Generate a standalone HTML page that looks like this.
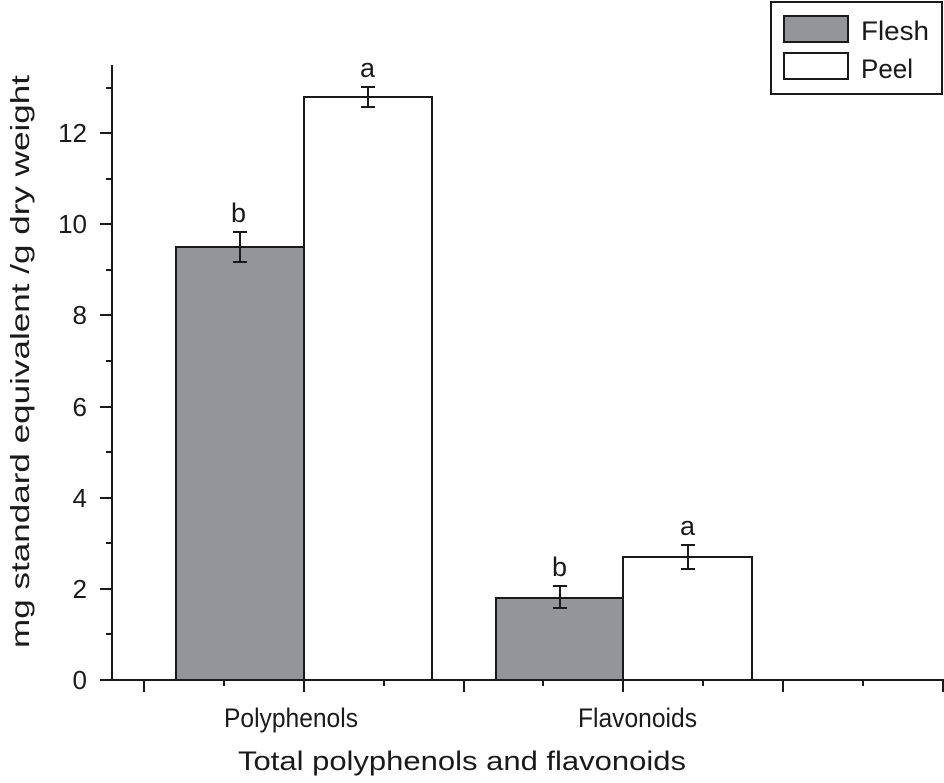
<!DOCTYPE html>
<html><head><style>body{margin:0;background:#fff}</style></head><body>
<svg width="944" height="778" xmlns="http://www.w3.org/2000/svg" font-family="'Liberation Sans',sans-serif">
<rect width="944" height="778" fill="#fff"/>
<g stroke="#1a1a1a" stroke-width="2">
<rect x="176" y="247" width="128" height="433" fill="#939598"/>
<rect x="304" y="97" width="128" height="583" fill="#fff"/>
<rect x="496" y="598" width="127" height="82" fill="#939598"/>
<rect x="623" y="557" width="129" height="123" fill="#fff"/>
<line x1="112" y1="65" x2="112" y2="680"/>
<line x1="100" y1="680" x2="944" y2="680"/>
</g>
<g stroke="#1a1a1a" stroke-width="2">
<path d="M100 680H112M100 589H112M100 498H112M100 407H112M100 315H112M100 224H112M100 133H112"/>
<path d="M106 634H112M106 543H112M106 452H112M106 361H112M106 270H112M106 179H112M106 88H112"/>
<path d="M144 680V692M304 680V692M464 680V692M623 680V692M783 680V692M943 680V692"/>
<path d="M224 680V686M384 680V686M543 680V686M703 680V686M863 680V686"/>
<path d="M240 232V262M233 232H247M233 262H247"/>
<path d="M368 87V107M361 87H375M361 107H375"/>
<path d="M560 586V608M553 586H567M553 608H567"/>
<path d="M688 545V569M681 545H695M681 569H695"/>
</g>
<g font-size="26" fill="#1a1a1a" text-anchor="end">
<text x="87" y="689">0</text><text x="87" y="598">2</text><text x="87" y="507">4</text><text x="87" y="416">6</text><text x="87" y="324">8</text><text x="87" y="233">10</text><text x="87" y="142">12</text>
</g>
<g font-size="27" fill="#1a1a1a">
<text x="231" y="222">b</text><text x="360" y="77">a</text><text x="552" y="576">b</text><text x="680" y="535">a</text>
<text x="224" y="727" textLength="134" lengthAdjust="spacingAndGlyphs">Polyphenols</text>
<text x="578" y="727" textLength="119" lengthAdjust="spacingAndGlyphs">Flavonoids</text>
<text x="238" y="770" textLength="448" lengthAdjust="spacingAndGlyphs">Total polyphenols and flavonoids</text>
<text transform="translate(29,648) rotate(-90)" font-size="26" textLength="573" lengthAdjust="spacingAndGlyphs">mg standard equivalent /g dry weight</text>
</g>
<rect x="771" y="2" width="171" height="92" fill="#fff" stroke="#1a1a1a" stroke-width="2"/>
<rect x="784" y="16" width="64" height="26" fill="#939598" stroke="#1a1a1a" stroke-width="2"/>
<rect x="784" y="53" width="64" height="26" fill="#fff" stroke="#1a1a1a" stroke-width="2"/>
<text x="861" y="40" font-size="27" fill="#1a1a1a" textLength="68" lengthAdjust="spacingAndGlyphs">Flesh</text>
<text x="861" y="78" font-size="27" fill="#1a1a1a" textLength="52" lengthAdjust="spacingAndGlyphs">Peel</text>
</svg>
</body></html>
